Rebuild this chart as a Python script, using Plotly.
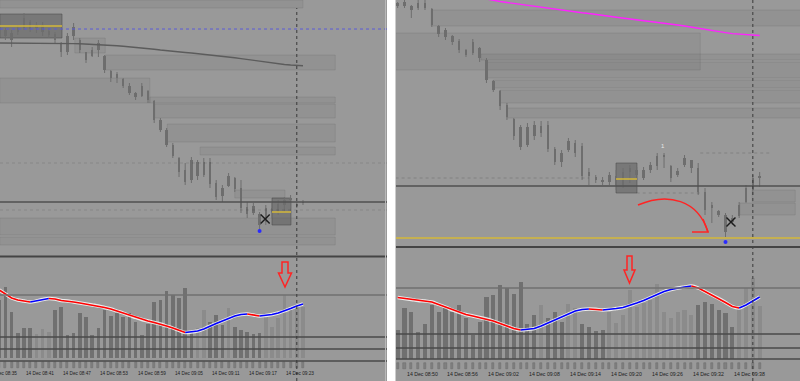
import plotly.graph_objects as go

# ---------------- LEFT chart: 1-minute bars, index 0 = 14 Dec 08:41 ----------------
L_idx = list(range(-4, 46))
L_open  = [276,270,267,268,272,278,272,275,269,266,257,248,264,260,248,244,250,244,229,222,
           221,214,207,204,209,199,180,170,155,142,130,120,138,125,138,117,104,114,122,112,
           93,87,86,78,92,88,95,100,96,97]
L_high  = [278,272,270,275,287,280,278,278,272,268,258,267,277,262,248,253,260,245,230,228,
           222,217,208,217,210,200,182,172,157,143,137,143,140,142,142,120,115,127,123,120,
           98,97,88,95,97,100,103,105,98,100]
L_low   = [270,260,253,265,270,268,267,264,262,257,243,245,260,247,237,243,243,227,218,217,
           212,205,200,203,197,177,168,153,142,123,115,117,120,123,112,100,98,113,108,87,
           82,85,70,75,82,85,88,92,92,95]
L_close = [272,264,260,272,282,271,275,268,265,260,248,264,273,250,240,250,257,230,222,226,
           214,207,203,214,200,180,170,155,144,128,118,140,124,138,116,103,112,124,111,92,
           86,94,75,92,88,96,100,102,94,98]
L_ma    = [257,257,257,257,257,257,257,257,256.7,256.7,256.6,256.5,256.4,256.2,256,255.8,255.5,
           255.1,254.7,254.3,253.8,253.3,252.8,252.2,251.5,250.8,250,249.2,248.6,248,247.5,247,
           246.4,245.8,245.2,244.5,243.8,243,242.2,241.4,240.5,239.6,238.7,237.8,237,236.2,
           235.5,235,234.6,234.3]
L_vol   = [58,71,46,25,30,30,24,29,26,48,51,23,25,45,41,23,30,48,42,45,41,45,36,23,34,56,58,
           67,63,60,70,26,30,48,36,43,33,50,31,28,26,24,25,41,31,40,63,50,51,51]
L_vol_light = [0,0,0,0,0,0,1,1,1,0,0,0,0,0,0,0,0,0,0,0,0,0,0,0,0,0,0,0,0,0,0,0,1,1,0,0,0,1,
               0,0,0,0,0,1,1,1,1,1,1,1]
L_osc   = [68,64,60,58,57,56,57,58.5,59.5,59,57.5,57,56,55,54,53,52,50.5,49,47,45,42.5,40.5,
           38.5,37,35.5,34,32,30,27.5,25.5,26,27,29,32,34.5,37,39.5,42,43.5,44,43,42,42.5,43.5,
           45,47,49.5,52,54]
L_tick_idx = [-6, 0, 6, 12, 18, 24, 30, 36, 42]
L_tick_txt = ["14 Dec 08:35", "14 Dec 08:41", "14 Dec 08:47", "14 Dec 08:53", "14 Dec 08:59",
              "14 Dec 09:05", "14 Dec 09:11", "14 Dec 09:17", "14 Dec 09:23"]
L_levels = [98]                 # solid price level
L_dot_levels = [271]            # blue dotted level
L_faint_levels = [137, 90]
L_osc_levels = [63, 21, 9, -3]
L_boxes = [(-3.9, 6.13, 262, 286, 274), (40, 43.06, 75, 102, 88)]
L_zones = [(-3.9, 45, 292, 300), (8.2, 13.1, 247, 262), (13.1, 50.2, 230, 245),
           (-3.9, 20.3, 197, 222), (20.3, 50.2, 197, 203), (21.1, 50.2, 182, 196),
           (23.1, 50.2, 158, 176), (28.4, 50.2, 145, 153), (34, 42.1, 102, 110),
           (-3.9, 50.2, 55, 63), (-3.9, 50.2, 65, 82)]
L_low_dot = ([38], [69])
L_cross = ([38.9], [81])
L_now = 44

# ---------------- RIGHT chart: 1-minute bars, index 0 = 14 Dec 08:50 ----------------
R_idx = list(range(-1, 53))
R_open  = [297,298,294,292,297,291,274,270,264,259,250,247,252,240,219,209,195,181,173,155,
           164,167,175,151,138,150,157,154,124,123,120,118,124,115,128,130,122,130,134,143,
           134,125,135,140,132,108,92,89,85,78,84,98,110,122]
R_high  = [298,300,295,300,300,292,275,272,265,261,251,261,253,242,220,210,197,182,175,177,
           179,179,179,153,150,162,160,157,132,125,123,128,130,132,135,133,133,138,147,147,
           135,132,145,140,137,112,98,90,87,85,98,115,125,128]
R_low   = [292,292,282,290,290,273,263,260,255,247,243,245,238,217,208,190,180,160,150,153,
           160,163,148,135,133,148,143,120,115,117,115,115,110,112,117,120,120,127,130,132,
           118,123,133,127,105,85,77,83,63,75,82,97,105,113]
R_close = [294,294,290,297,292,275,266,263,258,250,245,258,242,220,210,194,183,164,153,173,
           175,174,151,138,147,159,147,124,128,120,118,125,115,128,132,125,130,135,144,145,
           122,129,142,132,108,90,95,85,68,82,95,112,122,124]
R_ma_idx = list(range(12, 53))
R_ma    = [301,299.5,298.5,297.5,296.5,295.5,294.5,293.6,292.7,291.8,290.9,290,289,288,287.2,
           286.5,285.8,284.8,283.8,282.8,282,281.2,280.2,279.2,278.2,277.4,276.8,276,275,274,
           272.8,271.8,270.8,269.7,268.5,267.4,266.4,265.8,265.4,265,264.5]
R_vol   = [29,51,47,27,35,54,47,51,47,54,41,24,37,62,64,74,71,65,77,35,44,54,41,47,37,55,51,
           35,32,28,29,47,36,44,69,52,56,59,75,47,41,47,49,44,54,57,55,49,46,32,51,71,81,53]
R_vol_light = [0,0,0,0,0,0,0,0,0,0,0,0,0,0,0,0,0,0,0,0,0,1,0,0,0,1,1,0,0,0,0,1,1,1,1,1,1,1,
               1,1,1,1,1,1,0,0,0,0,0,0,1,1,1,1]
R_osc   = [61.5,60.5,59.5,58.5,58,57,54.5,52,49,46.5,44.5,43,41.5,40,38,35.5,33,30.5,29,29.5,
           30.5,33,36,39,42,45,48,49.5,50,49.7,49,49.5,50.5,51.5,53.5,56,58.5,61.5,64.5,67.5,
           69.5,71,72,73,71,67.5,64,60.5,56.5,52.5,51,54,58,62]
R_tick_idx = [0, 6, 12, 18, 24, 30, 36, 42, 48]
R_tick_txt = ["14 Dec 08:50", "14 Dec 08:56", "14 Dec 09:02", "14 Dec 09:08", "14 Dec 09:14",
              "14 Dec 09:20", "14 Dec 09:26", "14 Dec 09:32", "14 Dec 09:38"]
R_levels = [114]
R_yellow_levels = [62]
R_dot_levels = [(122, -1.3, 27), (147, 43.3, 53.8), (107, 34, 43.3)]
R_osc_levels = [71, 25, 11, 0]
R_boxes = [(30.97, 34.04, 107, 137, 121)]
R_zones = [(3.9, 58, 274, 290), (-1.3, 43.3, 230, 267), (11.2, 58, 240, 246),
           (11.9, 58, 222, 238), (13, 58, 212, 220), (14, 58, 197, 210), (15, 58, 182, 192),
           (50.9, 57.2, 98, 110), (49.1, 57.2, 85, 97)]
R_low_dot = ([47], [58])
R_cross = ([47.8], [78])
R_now = 51

# ---------------- styling ----------------
BG = "#999999"
CANDLE = "#6e6e6e"
DARK_BAR = "#707070"
LIGHT_BAR = "#8b8b8b"
W, H = 800, 381

def py(p):  # pixel y -> paper
    return 1 - p / H

def px(p):
    return p / W

LX_RANGE = [-3.871, 58.55]
RX_RANGE = [-1.2445, 57.906]
L_PX_PER_BAR = 387 / (LX_RANGE[1] - LX_RANGE[0])
R_PX_PER_BAR = 404 / (RX_RANGE[1] - RX_RANGE[0])

fig = go.Figure()

def add_panel(xa, ya, xa2, ya2, idx, o, h, l, c, ma_idx, ma, ma_color, vol, light,
              osc, low_dot, cross, tick_idx, tick_txt, fsize, barw, xrange, ppb):
    # candles: wicks + thin bodies
    wx, wy = [], []
    for i, hi, lo in zip(idx, h, l):
        wx += [i, i, None]
        wy += [lo, hi, None]
    fig.add_trace(go.Scatter(x=wx, y=wy, mode="lines", xaxis=xa, yaxis=ya,
                             line=dict(color=CANDLE, width=1), showlegend=False,
                             hoverinfo="skip"))
    fig.add_trace(go.Bar(x=idx, y=[max(abs(cc - oo), 1.0) for oo, cc in zip(o, c)],
                         base=[min(oo, cc) for oo, cc in zip(o, c)], xaxis=xa, yaxis=ya,
                         width=0.36, marker=dict(color=CANDLE, line=dict(width=0)),
                         showlegend=False, hoverinfo="skip"))
    fig.add_trace(go.Scatter(x=ma_idx, y=ma, mode="lines", xaxis=xa, yaxis=ya,
                             line=dict(color=ma_color, width=1.4), showlegend=False))
    fig.add_trace(go.Scatter(x=low_dot[0], y=low_dot[1], mode="markers", xaxis=xa, yaxis=ya,
                             marker=dict(color="#2a2aff", size=4), showlegend=False))
    fig.add_trace(go.Scatter(x=cross[0], y=cross[1], mode="markers", xaxis=xa, yaxis=ya,
                             marker=dict(symbol="x-thin", size=9,
                                         line=dict(color="#1c1c1c", width=1.4)),
                             showlegend=False))
    # volume-like histogram
    fig.add_trace(go.Bar(x=idx, y=vol, xaxis=xa2, yaxis=ya2, width=barw,
                         marker=dict(color=[LIGHT_BAR if s else DARK_BAR for s in light],
                                     line=dict(width=0)),
                         showlegend=False))
    # small tick cells under the histogram
    fig.add_trace(go.Bar(x=idx, y=[6] * len(idx), base=-10, xaxis=xa2, yaxis=ya2, width=0.3,
                         marker=dict(color="#808080", line=dict(color="#6a6a6a", width=0.5)),
                         showlegend=False))
    # oscillator line with white outline, coloured by direction
    fig.add_trace(go.Scatter(x=idx, y=osc, mode="lines", xaxis=xa2, yaxis=ya2,
                             line=dict(color="rgba(255,255,255,0.8)", width=3.4,
                                       shape="spline"), showlegend=False))
    runs = []
    for k in range(len(osc) - 1):
        col = "#0000ff" if osc[k + 1] >= osc[k] else "#ff0000"
        if runs and runs[-1][0] == col:
            runs[-1][1].append(k + 1)
        else:
            runs.append([col, [k, k + 1]])
    for col, ks in runs:
        fig.add_trace(go.Scatter(x=[idx[k] for k in ks], y=[osc[k] for k in ks], mode="lines",
                                 xaxis=xa2, yaxis=ya2,
                                 line=dict(color=col, width=1.6), showlegend=False))
    for t, s in zip(tick_idx, tick_txt):
        xpos = max(t, xrange[0] + 0.01)
        fig.add_annotation(x=xpos, y=-15, xref=xa2, yref=ya2, text=s,
                           showarrow=False, xanchor="left", yanchor="middle",
                           xshift=(t - xpos) * ppb,
                           font=dict(family="Liberation Sans", size=fsize, color="#1e1e1e"))

add_panel("x", "y", "x2", "y2", L_idx, L_open, L_high, L_low, L_close, L_idx, L_ma, "#5c5c5c",
          L_vol, L_vol_light, L_osc, L_low_dot, L_cross, L_tick_idx, L_tick_txt, 4.7, 0.55,
          LX_RANGE, L_PX_PER_BAR)
add_panel("x3", "y3", "x4", "y4", R_idx, R_open, R_high, R_low, R_close, R_ma_idx, R_ma,
          "#ff22ff", R_vol, R_vol_light, R_osc, R_low_dot, R_cross, R_tick_idx, R_tick_txt,
          5.2, 0.6, RX_RANGE, R_PX_PER_BAR)

shapes = []
def zone(xr, yr, z):
    shapes.append(dict(type="rect", xref=xr, yref=yr, x0=z[0], x1=z[1], y0=z[2], y1=z[3],
                       fillcolor="rgba(0,0,0,0.045)", line=dict(color="rgba(0,0,0,0.07)", width=1),
                       layer="below"))
for z in L_zones:
    zone("x", "y", z)
for z in R_zones:
    zone("x3", "y3", z)

def box(xr, yr, b):
    shapes.append(dict(type="rect", xref=xr, yref=yr, x0=b[0], x1=b[1], y0=b[2], y1=b[3],
                       fillcolor="rgba(80,80,80,0.45)", line=dict(color="rgba(70,70,70,0.5)", width=1),
                       layer="below"))
    shapes.append(dict(type="line", xref=xr, yref=yr, x0=b[0], x1=b[1], y0=b[4], y1=b[4],
                       line=dict(color="#d4b83a", width=1.5)))
for b in L_boxes:
    box("x", "y", b)
for b in R_boxes:
    box("x3", "y3", b)

def hl(xr, yr, y, x0, x1, color, width, dash="solid"):
    shapes.append(dict(type="line", xref=xr, yref=yr, x0=x0, x1=x1, y0=y, y1=y,
                       line=dict(color=color, width=width, dash=dash)))

for v in L_levels:
    hl("x", "y", v, LX_RANGE[0], LX_RANGE[1], "#505050", 1.5)
for v in L_dot_levels:
    hl("x", "y", v, LX_RANGE[0], LX_RANGE[1], "#5a5ad8", 1, "dot")
for v in L_faint_levels:
    hl("x", "y", v, LX_RANGE[0], LX_RANGE[1], "rgba(0,0,0,0.12)", 1, "dot")
for i, v in enumerate(L_osc_levels):
    hl("x2", "y2", v, LX_RANGE[0], LX_RANGE[1], "#707070" if i == 0 else "#4a4a4a", 1.6)

for v in R_levels:
    hl("x3", "y3", v, RX_RANGE[0], RX_RANGE[1], "#505050", 1.5)
for v in R_yellow_levels:
    hl("x3", "y3", v, RX_RANGE[0], RX_RANGE[1], "#d4b83a", 1.5)
for v, a, b in R_dot_levels:
    hl("x3", "y3", v, a, b, "rgba(0,0,0,0.15)", 1, "dot")
for i, v in enumerate(R_osc_levels):
    hl("x4", "y4", v, RX_RANGE[0], RX_RANGE[1], "#707070" if i == 0 else "#4a4a4a", 1.6)

# current-time dotted verticals
shapes.append(dict(type="line", xref="x", yref="paper", x0=L_now, x1=L_now, y0=0, y1=py(8),
                   line=dict(color="#3a3a3a", width=1, dash="dot")))
shapes.append(dict(type="line", xref="x3", yref="paper", x0=R_now, x1=R_now, y0=0, y1=1,
                   line=dict(color="#3a3a3a", width=1, dash="dot")))

# panel separators
shapes.append(dict(type="line", xref="paper", yref="paper", x0=0, x1=px(387), y0=py(256.5),
                   y1=py(256.5), line=dict(color="#444444", width=2)))
shapes.append(dict(type="line", xref="paper", yref="paper", x0=px(396), x1=1, y0=py(247),
                   y1=py(247), line=dict(color="#444444", width=2)))
shapes.append(dict(type="rect", xref="paper", yref="paper", x0=px(387), x1=px(395.5), y0=0,
                   y1=1, fillcolor="white", line=dict(width=0), layer="above"))
shapes.append(dict(type="line", xref="paper", yref="paper", x0=px(385.5), x1=px(385.5), y0=0,
                   y1=1, line=dict(color="#b8b8b8", width=1)))

# hand-drawn red marks
def path(pts, close=False):
    s = "M " + " L ".join(f"{px(a):.5f},{py(b):.5f}" for a, b in pts)
    return s + (" Z" if close else "")

RED = "#ff2424"
shapes.append(dict(type="path", xref="paper", yref="paper",
                   path=f"M {px(638):.5f},{py(205):.5f} C {px(668):.5f},{py(192):.5f} "
                        f"{px(698):.5f},{py(200):.5f} {px(708):.5f},{py(232):.5f}",
                   line=dict(color=RED, width=1.5)))
shapes.append(dict(type="path", xref="paper", yref="paper",
                   path=path([(692, 232), (708, 232), (703, 219)]),
                   line=dict(color=RED, width=1.5)))
shapes.append(dict(type="path", xref="paper", yref="paper",
                   path=path([(282, 262), (288, 262), (288, 273), (291.5, 273), (285, 287),
                              (278.5, 273), (282, 273)], True),
                   line=dict(color=RED, width=1.5)))
shapes.append(dict(type="path", xref="paper", yref="paper",
                   path=path([(627, 256), (632, 256), (632, 270), (635, 270), (629.5, 283),
                              (624, 270), (627, 270)], True),
                   line=dict(color=RED, width=1.5)))

fig.add_annotation(x=37.85, y=154, xref="x3", yref="y3", text="1", showarrow=False,
                   font=dict(family="Liberation Sans", size=6, color="#e6e6e6"))

def ax(domain, rng, anchor):
    return dict(domain=domain, range=rng, visible=False, fixedrange=True, anchor=anchor,
                showgrid=False, zeroline=False)

def ay(domain, rng, anchor):
    return dict(domain=domain, range=rng, visible=False, fixedrange=True, anchor=anchor,
                showgrid=False, zeroline=False)

fig.update_layout(
    width=W, height=H, margin=dict(l=0, r=0, t=0, b=0),
    paper_bgcolor=BG, plot_bgcolor="rgba(0,0,0,0)", barmode="overlay", bargap=0,
    showlegend=False, shapes=shapes,
    xaxis=ax([0, px(387)], LX_RANGE, "y"),
    yaxis=ay([py(256), 1], [44, 300], "x"),
    xaxis2=ax([0, px(387)], LX_RANGE, "y2"),
    yaxis2=ay([0, py(257)], [-23, 101], "x2"),
    xaxis3=ax([px(396), 1], RX_RANGE, "y3"),
    yaxis3=ay([py(246), 1], [54, 300], "x3"),
    xaxis4=ax([px(396), 1], RX_RANGE, "y4"),
    yaxis4=ay([0, py(247)], [-22, 112], "x4"),
)

fig.write_html("out.html")
